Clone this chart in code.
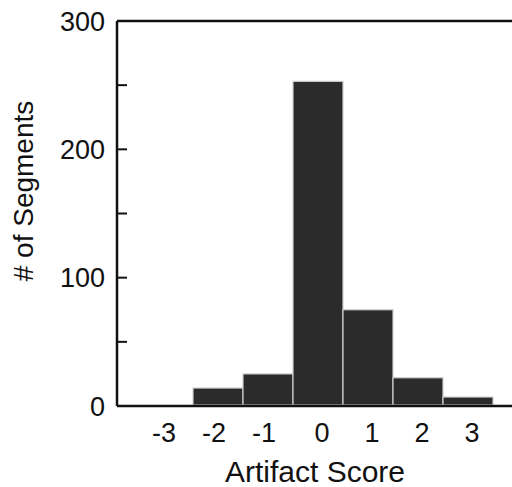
<!DOCTYPE html>
<html>
<head>
<meta charset="utf-8">
<script src="https://cdn.jsdelivr.net/npm/d3@7"></script>
<style>
  body { margin: 0; background: #fff; }
  text { font-family: "Liberation Sans", Arial, sans-serif; fill: #111; }
</style>
</head>
<body>
<div id="chart"></div>
<script>
// artifact score bins and counts
var scores = [-3, -2, -1, 0, 1, 2, 3];
var counts = [0, 14, 25, 253, 75, 22, 7];
var yTicks = [0, 100, 200, 300];
var yMinorTicks = [50, 150, 250];

var width = 512,
  height = 487,
  margin = { top: 21, left: 117, bottom: 81, right: 0 };

var svg = d3
  .select("#chart")
  .append("svg")
  .attr("width", width)
  .attr("height", height);

var x = d3
  .scaleLinear()
  .domain([-4.02, 3.88])
  .range([margin.left, width - margin.right]);

var y = d3
  .scaleLinear()
  .domain([0, 300])
  .range([height - margin.bottom, margin.top]);

var data = scores.map((s, i) => ({ score: s, count: counts[i] }));

// bars
svg
  .append("g")
  .selectAll("rect")
  .data(data.filter((d) => d.count > 0))
  .join("rect")
  .attr("x", (d) => x(d.score - 0.5))
  .attr("width", (d) => x(d.score + 0.5) - x(d.score - 0.5))
  .attr("y", (d) => y(d.count))
  .attr("height", (d) => y(0) - y(d.count) - 1)
  .attr("fill", "#2b2b2b")
  .attr("stroke", "#cfcfcf")
  .attr("stroke-width", 1.2);

// frame lines: left, bottom, top
var frame = svg.append("g").attr("stroke", "#111").attr("stroke-width", 2.5);
frame
  .append("line")
  .attr("x1", margin.left)
  .attr("x2", margin.left)
  .attr("y1", y(300))
  .attr("y2", y(0));
frame
  .append("line")
  .attr("x1", margin.left)
  .attr("x2", width)
  .attr("y1", y(0))
  .attr("y2", y(0));
frame
  .append("line")
  .attr("x1", margin.left)
  .attr("x2", width)
  .attr("y1", y(300))
  .attr("y2", y(300));

// y ticks (inward)
svg
  .append("g")
  .selectAll("line")
  .data(yTicks.concat(yMinorTicks))
  .join("line")
  .attr("x1", margin.left)
  .attr("x2", margin.left + 10)
  .attr("y1", (d) => y(d))
  .attr("y2", (d) => y(d))
  .attr("stroke", "#111")
  .attr("stroke-width", 2);

svg
  .append("g")
  .selectAll("text")
  .data(yTicks)
  .join("text")
  .attr("x", margin.left - 12)
  .attr("y", (d) => y(d))
  .attr("dy", "0.36em")
  .attr("text-anchor", "end")
  .attr("font-size", 27)
  .text((d) => d);

// x labels
svg
  .append("g")
  .selectAll("text")
  .data(scores)
  .join("text")
  .attr("x", (d) => x(d) + (d < 0 ? -4 : 4))
  .attr("y", 442)
  .attr("text-anchor", "middle")
  .attr("font-size", 27)
  .text((d) => d);

// axis titles
svg
  .append("text")
  .attr("x", 315)
  .attr("y", 482)
  .attr("text-anchor", "middle")
  .attr("font-size", 30)
  .text("Artifact Score");

svg
  .append("text")
  .attr("transform", "translate(33,191) rotate(-90)")
  .attr("text-anchor", "middle")
  .attr("font-size", 28)
  .text("# of Segments");
</script>
</body>
</html>
